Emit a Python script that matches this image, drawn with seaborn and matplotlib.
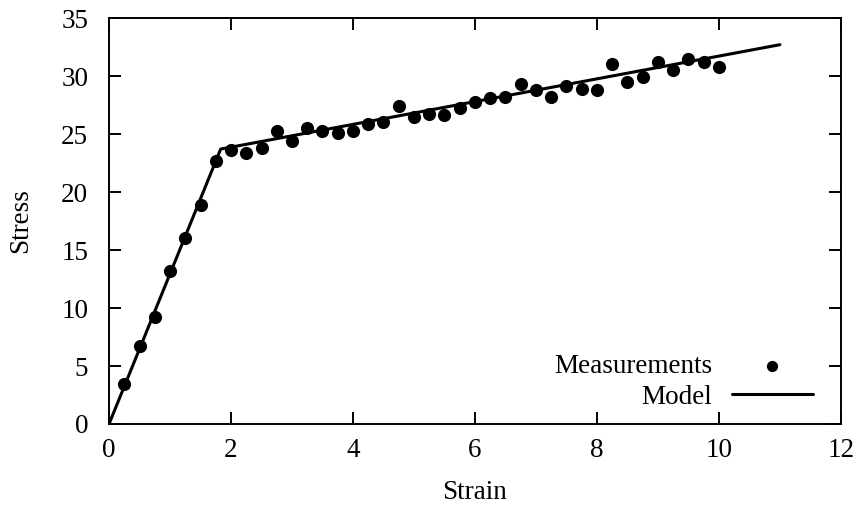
import matplotlib
matplotlib.use("Agg")
import matplotlib.pyplot as plt
import numpy as np
import pandas as pd
import seaborn as sns

# Measured stress-strain samples
strain = [0.25, 0.5, 0.75, 1.0, 1.25, 1.5, 1.75, 2.0, 2.25, 2.5,
          2.75, 3.0, 3.25, 3.5, 3.75, 4.0, 4.25, 4.5, 4.75, 5.0,
          5.25, 5.5, 5.75, 6.0, 6.25, 6.5, 6.75, 7.0, 7.25, 7.5,
          7.75, 8.0, 8.25, 8.5, 8.75, 9.0, 9.25, 9.5, 9.75, 10.0]
stress = [3.45, 6.7, 9.2, 13.2, 16.0, 18.9, 22.7, 23.6, 23.4, 23.8,
          25.3, 24.4, 25.5, 25.3, 25.1, 25.3, 25.9, 26.0, 27.4, 26.5,
          26.7, 26.6, 27.2, 27.8, 28.1, 28.2, 29.3, 28.8, 28.2, 29.1,
          28.9, 28.8, 31.0, 29.5, 29.9, 31.2, 30.5, 31.5, 31.2, 30.8]

# Bilinear model: elastic branch up to yield, then hardening
model_strain = [0.0, 1.83, 11.0]
model_stress = [0.0, 23.7, 32.7]

x_ticks = [0, 2, 4, 6, 8, 10, 12]
y_ticks = [0, 5, 10, 15, 20, 25, 30, 35]

meas = pd.DataFrame({"Strain": strain, "Stress": stress})
model = pd.DataFrame({"Strain": model_strain, "Stress": model_stress})

sns.set_style("ticks")
plt.rcParams["font.family"] = ["Liberation Serif", "DejaVu Serif"]
plt.rcParams["font.size"] = 19.5
for key in ["text.color", "axes.labelcolor", "xtick.color", "ytick.color",
            "xtick.labelcolor", "ytick.labelcolor"]:
    plt.rcParams[key] = "black"

fig = plt.figure(figsize=(8.62, 5.09), dpi=100)
ax = fig.add_axes([0.1265, 0.167, 0.849, 0.7976])

sns.lineplot(data=model, x="Strain", y="Stress", ax=ax, color="black",
             linewidth=2.2, label="Model", zorder=2)
sns.scatterplot(data=meas, x="Strain", y="Stress", ax=ax, color="black",
                s=90, marker="o", edgecolor="black", linewidth=0,
                label="Measurements", zorder=3)

ax.set_xlim(0, 12)
ax.set_ylim(0, 35)
ax.set_xticks(x_ticks)
ax.set_yticks(y_ticks)
ax.set_xlabel("Strain", fontsize=19.5, labelpad=12)
ax.set_ylabel("Stress", fontsize=19.5, labelpad=20)

for side in ["top", "right", "bottom", "left"]:
    ax.spines[side].set_visible(True)
    ax.spines[side].set_linewidth(1.4)
    ax.spines[side].set_color("black")
ax.tick_params(axis="both", which="both", direction="in", length=8.5,
               width=1.4, top=True, right=True, labelsize=19.5,
               colors="black")
ax.tick_params(axis="x", pad=10)
ax.tick_params(axis="y", pad=15)

handles, labels = ax.get_legend_handles_labels()
order = [labels.index("Measurements"), labels.index("Model")]
leg = ax.legend([handles[i] for i in order], [labels[i] for i in order],
                loc="lower right", bbox_to_anchor=(0.9617, 0.035),
                borderaxespad=0, borderpad=0,
                frameon=False, markerfirst=False, fontsize=19.5,
                handlelength=3.0, handletextpad=0.72, labelspacing=0.22,
                markerscale=0.85)

fig.savefig("out.png", dpi=100)
